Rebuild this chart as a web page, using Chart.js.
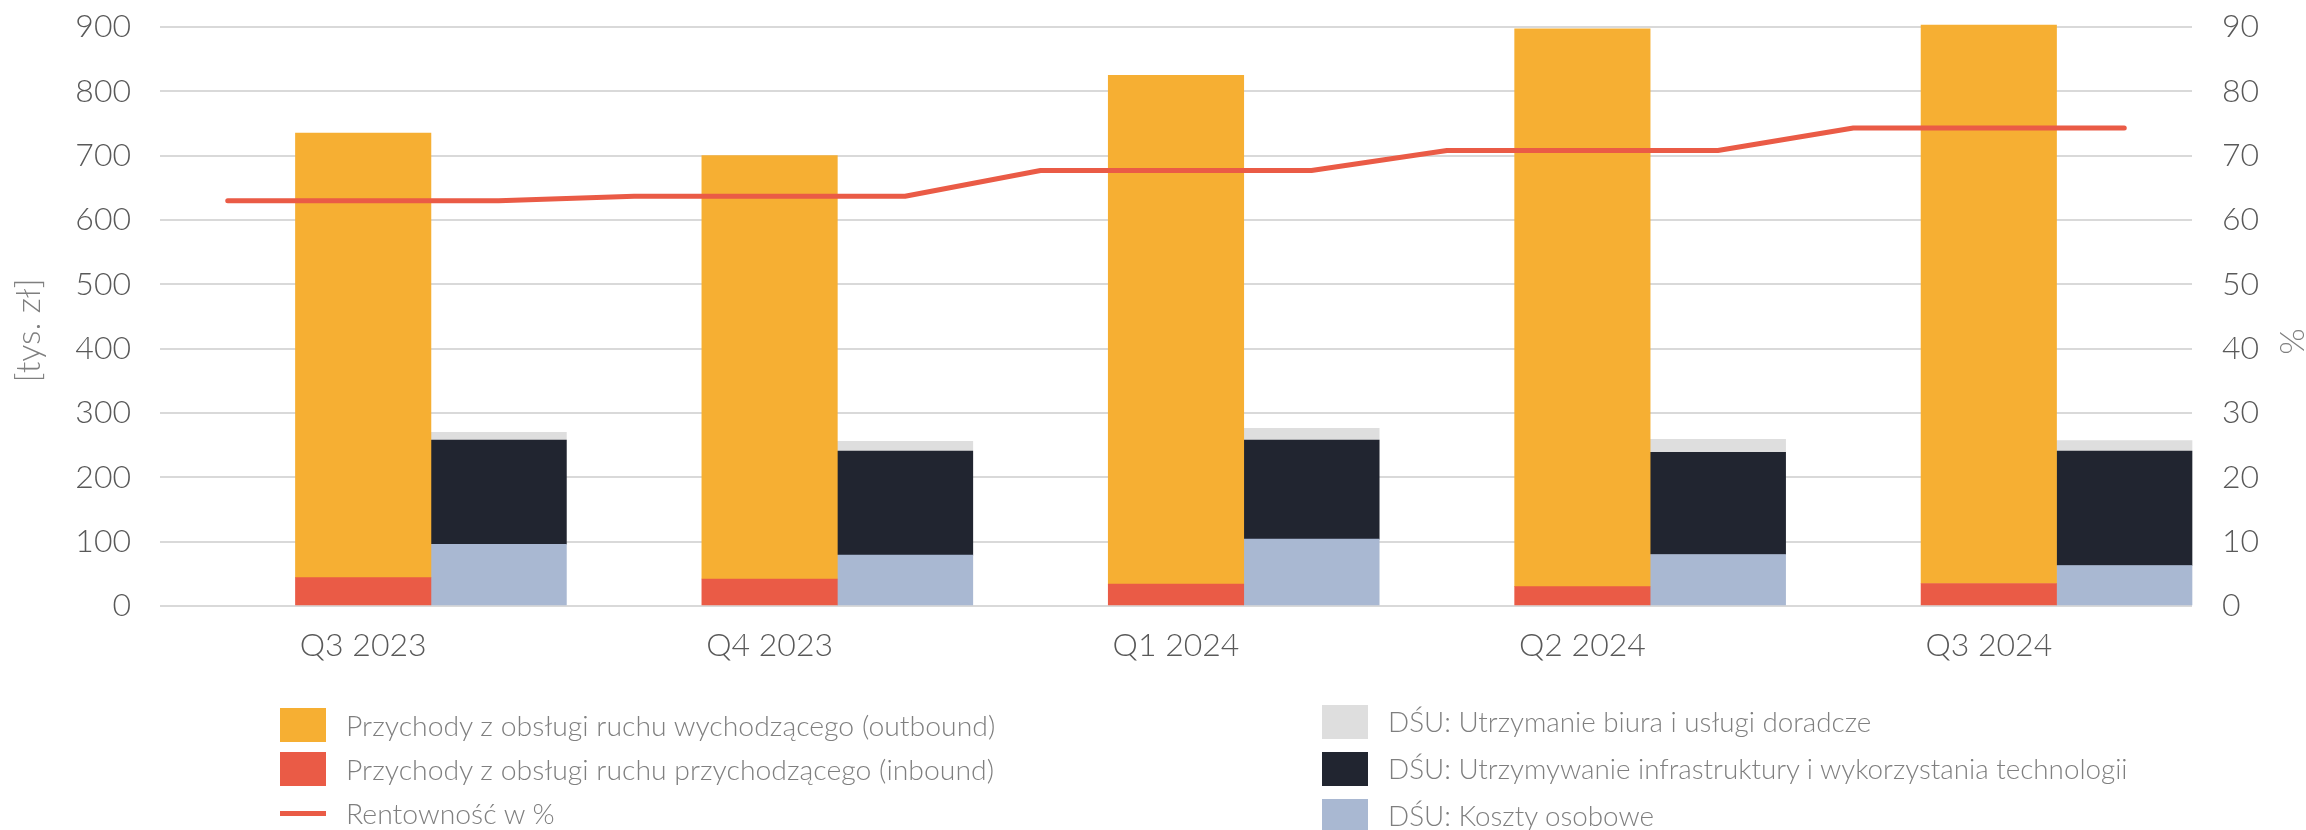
<!DOCTYPE html>
<html lang="pl">
<head>
<meta charset="utf-8">
<script src="https://cdn.jsdelivr.net/npm/chart.js@4.4.1/dist/chart.umd.min.js"></script>
<style>
    html, body { margin: 0; padding: 0; background: #fff; }
    #wrap { position: relative; width: 2306px; height: 830px; overflow: hidden; }
    #chart { position: absolute; left: 0; top: 0; }
    .legend-col { position: absolute; font-family: Lato, sans-serif; font-weight: 300; color: #7f7f7f; }
    .legend-item { display: flex; align-items: center; white-space: nowrap; }
    .legend-swatch { width: 46px; height: 34px; margin-right: 20px; flex: none; }
    .legend-line { width: 46px; height: 5px; margin: 0 20px 0 0; flex: none; }
</style>
</head>
<body>
<div id="wrap">
    <canvas id="chart" width="2306" height="830"></canvas>
    <div class="legend-col" id="legend-left" style="left:280px; top:703px; font-size:28.4px;"></div>
    <div class="legend-col" id="legend-right" style="left:1322px; top:698px; font-size:27.8px;"></div>
</div>
<script>
// --- Data ---
const quarters = ['Q3 2023', 'Q4 2023', 'Q1 2024', 'Q2 2024', 'Q3 2024'];
const outbound = [691, 658, 791, 867, 868];        // tys. zł
const inbound = [44, 42, 34, 30, 35];              // tys. zł
const kosztyOsobowe = [96, 79, 104, 80, 63];       // tys. zł
const infrastruktura = [162, 162, 154, 159, 178];  // tys. zł
const biuro = [12, 15, 18, 20, 16];                // tys. zł
const rentownosc = [63.0, 63.7, 67.7, 70.8, 74.3]; // %
const leftAxis = { max: 900, step: 100 };
const rightAxis = { max: 90, step: 10 };

const colors = {
    outbound: '#f6af33',
    inbound: '#ea5b46',
    biuro: '#dedede',
    infra: '#212530',
    osobowe: '#a9b8d2',
    line: '#ea5b46',
    grid: '#d9d9d9',
    tick: '#595959',
    title: '#7f7f7f'
};

const labels = {
    outbound: 'Przychody z obsługi ruchu wychodzącego (outbound)',
    inbound: 'Przychody z obsługi ruchu przychodzącego (inbound)',
    line: 'Rentowność w %',
    biuro: 'DŚU: Utrzymanie biura i usługi doradcze',
    infra: 'DŚU: Utrzymywanie infrastruktury i wykorzystania technologii',
    osobowe: 'DŚU: Koszty osobowe'
};

// Each quarter is split in three slots: empty | revenue stack | cost stack.
// The profitability line runs flat across the three slots of its quarter.
const slots = quarters.flatMap(q => [q + ' a', q, q + ' b']);
const inSlot = (values, pos) => values.flatMap(v => [0, 1, 2].map(k => (k === pos ? v : null)));
const lineValues = rentownosc.flatMap(v => [v, v, v]);

const FONT = 'Lato, sans-serif';
const tickFont = { family: FONT, size: 32, weight: '300' };

// axis titles sit a bit below the middle of the plot, as in the original
const axisTitles = {
    id: 'axisTitles',
    afterDraw(chart) {
        const { ctx, chartArea } = chart;
        const midY = (chartArea.top + chartArea.bottom) / 2;
        const drawRotated = (text, x, y, angle) => {
            ctx.save();
            ctx.fillStyle = colors.title;
            ctx.font = '300 34px ' + FONT;
            ctx.textAlign = 'center';
            ctx.textBaseline = 'middle';
            ctx.translate(x, y);
            ctx.rotate(angle);
            ctx.fillText(text, 0, 0);
            ctx.restore();
        };
        drawRotated('[tys. zł]', 29, midY + 14, -Math.PI / 2);
        drawRotated('%', 2291, midY + 25, Math.PI / 2);
    }
};

// fixed axis widths; the tick padding should not push the plot down
const fixWidth = (width) => (scale) => {
    scale.width = width;
    scale.paddingTop = 0;
    scale.paddingBottom = 0;
};

const barBase = { type: 'bar', borderWidth: 0, barPercentage: 1, categoryPercentage: 1, order: 1, clip: false };

const chart = new Chart(document.getElementById('chart').getContext('2d'), {
    data: {
        labels: slots,
        datasets: [
            {
                type: 'line',
                label: labels.line,
                data: lineValues,
                yAxisID: 'y2',
                borderColor: colors.line,
                borderWidth: 5,
                borderCapStyle: 'round',
                borderJoinStyle: 'round',
                pointRadius: 0,
                tension: 0,
                order: 0
            },
            { ...barBase, label: labels.inbound, data: inSlot(inbound, 1), backgroundColor: colors.inbound },
            { ...barBase, label: labels.outbound, data: inSlot(outbound, 1), backgroundColor: colors.outbound },
            { ...barBase, label: labels.osobowe, data: inSlot(kosztyOsobowe, 2), backgroundColor: colors.osobowe },
            { ...barBase, label: labels.infra, data: inSlot(infrastruktura, 2), backgroundColor: colors.infra },
            { ...barBase, label: labels.biuro, data: inSlot(biuro, 2), backgroundColor: colors.biuro }
        ]
    },
    options: {
        responsive: false,
        animation: false,
        devicePixelRatio: 1,
        layout: { padding: { top: 27, left: 0, right: 0, bottom: 0 } },
        plugins: {
            legend: { display: false },
            tooltip: { enabled: false }
        },
        scales: {
            x: {
                stacked: true,
                offset: true,
                grid: { display: false },
                border: { display: false },
                ticks: {
                    color: colors.tick,
                    font: tickFont,
                    padding: 12,
                    maxRotation: 0,
                    autoSkip: false,
                    callback: (value, index) => (index % 3 === 1 ? quarters[(index - 1) / 3] : '')
                },
                afterFit: (scale) => { scale.height = 224; }
            },
            y: {
                stacked: true,
                position: 'left',
                min: 0,
                max: leftAxis.max,
                ticks: { stepSize: leftAxis.step, color: colors.tick, font: tickFont, padding: 29 },
                grid: { color: colors.grid, lineWidth: 2, drawTicks: false },
                border: { display: false },
                afterFit: fixWidth(160)
            },
            y2: {
                position: 'right',
                min: 0,
                max: rightAxis.max,
                ticks: { stepSize: rightAxis.step, color: colors.tick, font: tickFont, padding: 30 },
                grid: { display: false, drawTicks: false },
                border: { display: false },
                afterFit: fixWidth(114)
            }
        }
    },
    plugins: [axisTitles]
});

// --- HTML legend in two columns ---
const addLegendItem = (col, key, rowHeight, isLine) => {
    const item = document.createElement('div');
    item.className = 'legend-item';
    item.style.height = rowHeight + 'px';
    const mark = document.createElement('span');
    mark.className = isLine ? 'legend-line' : 'legend-swatch';
    mark.style.background = colors[key];
    const text = document.createElement('span');
    text.textContent = labels[key];
    item.appendChild(mark);
    item.appendChild(text);
    col.appendChild(item);
};

const leftCol = document.getElementById('legend-left');
const rightCol = document.getElementById('legend-right');
addLegendItem(leftCol, 'outbound', 44);
addLegendItem(leftCol, 'inbound', 44);
addLegendItem(leftCol, 'line', 44, true);
addLegendItem(rightCol, 'biuro', 47);
addLegendItem(rightCol, 'infra', 47);
addLegendItem(rightCol, 'osobowe', 47);
</script>
</body>
</html>
